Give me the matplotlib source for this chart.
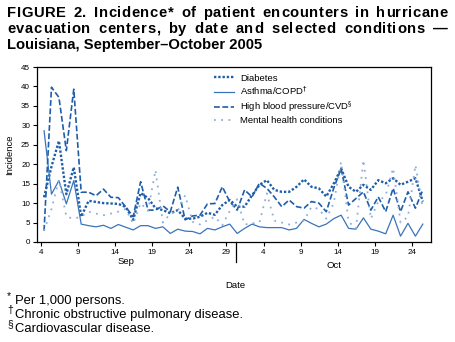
import matplotlib.pyplot as plt
import numpy as np

plt.rcParams['font.family'] = ['Liberation Sans', 'DejaVu Sans']

# дни подряд: 4 сен = 4 ... 30 сен = 30, 1 окт = 31 ... 25 окт = 55
days = np.arange(4, 56)

diabetes = [11.5, 19.4, 26.0, 12.3, 19.2, 6.5, 10.6, 10.3, 10.0, 9.9,
            9.8, 9.0, 5.7, 12.6, 11.3, 8.7, 8.2, 7.4, 8.2, 6.0,
            6.0, 6.5, 7.5, 7.0, 9.5, 10.8, 9.1, 9.1, 12.0, 14.7,
            15.9, 13.4, 12.9, 12.9, 14.2, 16.1, 14.2, 13.8, 11.7, 15.0,
            18.9, 14.2, 12.9, 14.7, 13.4, 15.9, 15.1, 16.4, 14.7, 15.5,
            16.4, 10.4]
asthma = [28.6, 12.3, 15.8, 9.8, 15.8, 4.6, 4.2, 3.9, 4.3, 3.5,
          4.5, 3.8, 3.1, 4.2, 4.2, 3.5, 3.9, 2.2, 3.3, 2.8,
          2.7, 2.1, 3.5, 3.1, 3.9, 4.6, 2.2, 3.5, 4.6, 3.9,
          3.7, 3.7, 3.7, 3.1, 3.5, 5.8, 4.8, 3.9, 4.6, 6.0,
          6.9, 3.5, 3.3, 6.2, 3.3, 2.8, 2.1, 6.9, 1.5, 4.8,
          1.5, 4.6]
hbp = [2.9, 39.8, 37.2, 23.5, 39.3, 12.8, 12.8, 11.9, 13.6, 11.5,
       11.4, 9.0, 6.5, 15.5, 8.2, 8.2, 9.3, 7.8, 14.1, 5.7,
       6.7, 6.9, 9.8, 9.9, 14.2, 10.4, 8.2, 13.4, 11.6, 15.1,
       13.8, 11.6, 9.1, 10.8, 9.1, 8.7, 10.4, 10.0, 7.8, 13.8,
       18.9, 9.5, 11.2, 12.9, 8.2, 11.6, 7.8, 13.8, 7.8, 12.9,
       8.7, 13.4]
mental = [2.9, 8.5, 16.0, 6.5, 6.0, 6.5, 7.8, 7.3, 6.9, 7.3,
          7.8, 8.5, 4.7, 10.0, 8.0, 18.5, 5.0, 7.3, 8.0, 12.0,
          5.2, 4.5, 5.6, 6.5, 4.3, 8.0, 11.0, 4.5, 4.8, 5.0,
          12.5, 5.5, 5.0, 4.5, 5.0, 5.5, 9.0, 8.5, 6.0, 10.0,
          20.6, 5.2, 3.5, 21.1, 6.0, 10.4, 12.0, 19.0, 5.0, 6.5,
          19.8, 8.6]

tick_days = [4, 9, 14, 19, 24, 29, 34, 39, 44, 49, 54]
tick_labels = ['4', '9', '14', '19', '24', '29', '4', '9', '14', '19', '24']
month_split = 30.3

title_lines = ['FIGURE 2. Incidence* of patient encounters in hurricane',
               'evacuation centers, by date and selected conditions \u2014',
               'Louisiana, September\u2013October 2005']

W, H = 455, 342
fig = plt.figure(figsize=(W / 100, H / 100), dpi=100)
ax = fig.add_axes([37 / W, 1 - 242 / H, 394 / W, 175 / H])

x = days + 0.45  # точки стоят посередине суток
ax.plot(x, diabetes, color='#1f5ea8', lw=1.7, ls=(0, (1, 0.8)), label='Diabetes')
ax.plot(x, asthma, color='#3a74bb', lw=0.9, ls='-', label='Asthma/COPD$^{\\dagger}$')
ax.plot(x, hbp, color='#1f5ea8', lw=1.2, ls=(0, (3.5, 1.5)),
        label='High blood pressure/CVD$^{\\S}$')
ax.plot(x, mental, color='#8eaed8', lw=1.3, ls=(0, (1, 3)),
        label='Mental health conditions')

ax.set_xlim(3.5, 56.55)
ax.set_ylim(0, 45)
ax.set_yticks(np.arange(0, 46, 5))
ax.set_xticks(tick_days)
ax.set_xticklabels(tick_labels)
ax.tick_params(axis='both', labelsize=5.8, length=3, width=0.8, pad=2, direction='out')
for s in ax.spines.values():
    s.set_linewidth(0.9)

# длинная черта между сентябрём и октябрём
ax.plot([month_split, month_split], [0, -0.115], color='black', lw=0.9,
        transform=ax.get_xaxis_transform(), clip_on=False)
ax.text(15.5, -0.11, 'Sep', transform=ax.get_xaxis_transform(), fontsize=6.8,
        ha='center', va='center')
ax.text(43.5, -0.137, 'Oct', transform=ax.get_xaxis_transform(), fontsize=6.8,
        ha='center', va='center')
ax.text(30.2, -0.246, 'Date', transform=ax.get_xaxis_transform(), fontsize=6.8,
        ha='center', va='center')
ax.set_ylabel('Incidence', fontsize=6.8, labelpad=5)

ax.legend(loc='upper left', bbox_to_anchor=(0.43, 1.005), frameon=False,
          fontsize=6.8, handlelength=2.1, labelspacing=0.22, handletextpad=0.7,
          borderpad=0.3)

# заголовок: первые две строки растянуты по ширине
# (немного между буквами, больше между словами)
fig.canvas.draw()
r = fig.canvas.get_renderer()
x0, x1 = 7, 448
baselines = [16.7, 32.7, 48.7]
tfs = 10.6
space_w = 0.278 * tfs * 100 / 72
for i, line in enumerate(title_lines):
    yb = 1 - baselines[i] / H
    if i == len(title_lines) - 1:
        fig.text(x0 / W, yb, line, fontsize=tfs, fontweight='bold', va='baseline')
        continue
    full = fig.text(0, yb, line, fontsize=tfs, fontweight='bold', va='baseline')
    natural = full.get_window_extent(r).width
    full.remove()
    arts, widths = [], []
    for ch in line:
        a = fig.text(0, yb, ch, fontsize=tfs, fontweight='bold', va='baseline')
        arts.append(a)
        widths.append(space_w if ch == ' ' else a.get_window_extent(r).width)
    scale = natural / sum(widths)
    widths = [w * scale for w in widths]
    n_sp = line.count(' ')
    e = (x1 - x0 - sum(widths)) / ((len(line) - 1) + 4 * n_sp)
    pos = x0
    for a, ch, w in zip(arts, line, widths):
        a.set_x(pos / W)
        pos += w + e + (4 * e if ch == ' ' else 0)

# сноски
notes = [('*', 'Per 1,000 persons.', 304),
         ('\u2020', 'Chronic obstructive pulmonary disease.', 318),
         ('\u00a7', 'Cardiovascular disease.', 332)]
for sym, txt, yb in notes:
    fig.text(7 / W, 1 - (yb - 5) / H, sym, fontsize=7.5, va='baseline')
    fig.text(15 / W, 1 - yb / H, txt, fontsize=9.4, va='baseline')

fig.savefig('out.png', dpi=100)
